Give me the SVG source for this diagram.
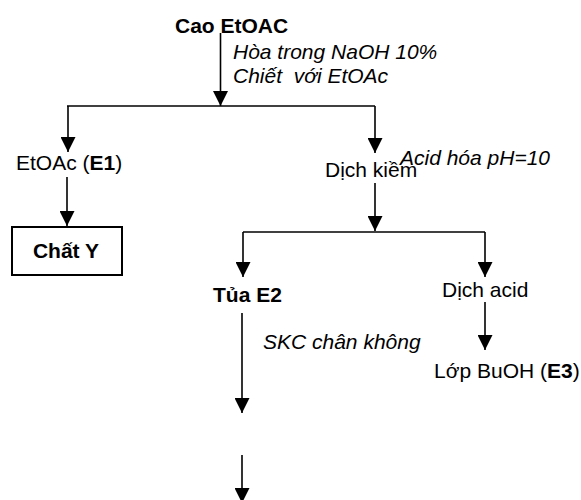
<svg xmlns="http://www.w3.org/2000/svg" width="581" height="500" viewBox="0 0 581 500">
<defs>
<marker id="ah" markerWidth="15" markerHeight="15" refX="15" refY="7.5" orient="auto" markerUnits="userSpaceOnUse">
<path d="M0,0 L15,7.5 L0,15 Z" fill="#000"/>
</marker>
<style>
.t{font-family:"Liberation Sans",Arial,sans-serif;font-size:21px;fill:#000}
.b{font-weight:bold}
.i{font-style:italic}
.ln{stroke:#000;stroke-width:1.6;fill:none}
.ar{stroke:#000;stroke-width:1.6;fill:none;marker-end:url(#ah)}
</style>
</defs>
<rect width="581" height="500" fill="#fff"/>
<g id="connectors">
<line class="ar" x1="220.5" y1="33" x2="220.5" y2="106"/>
<line class="ln" x1="67" y1="106" x2="375" y2="106"/>
<line class="ar" x1="68" y1="106" x2="68" y2="152"/>
<line class="ar" x1="375" y1="106" x2="375" y2="153"/>
<line class="ar" x1="67" y1="177" x2="67" y2="226"/>
<line class="ar" x1="375" y1="183" x2="375" y2="231"/>
<line class="ln" x1="243" y1="232" x2="485" y2="232"/>
<line class="ar" x1="243" y1="232" x2="243" y2="277"/>
<line class="ar" x1="485" y1="232" x2="485" y2="277"/>
<line class="ar" x1="485" y1="302" x2="485" y2="350"/>
<line class="ar" x1="242" y1="313" x2="242" y2="413"/>
<line class="ar" x1="242" y1="455" x2="242" y2="503"/>
</g>
<g id="cao"><text class="t b" x="175" y="33">Cao EtOAC</text></g>
<g id="step1"><text class="t i" x="233" y="59">Hòa trong NaOH 10%</text><text class="t i" x="233" y="83" xml:space="preserve" style="white-space:pre">Chiết  với EtOAc</text></g>
<g id="e1"><text class="t" x="16" y="170">EtOAc (<tspan class="b">E1</tspan>)</text></g>
<g id="chaty"><rect x="12" y="227" width="110" height="48" fill="#fff" stroke="#000" stroke-width="2"/><text class="t b" x="66" y="258" text-anchor="middle">Chất Y</text></g>
<g id="dichkiem"><text class="t" x="325" y="177">Dịch kiềm</text></g>
<g id="acid"><text class="t i" x="400" y="165">Acid hóa pH=10</text></g>
<g id="tua"><text class="t b" x="213" y="302">Tủa E2</text></g>
<g id="dichacid"><text class="t" x="442" y="297">Dịch acid</text></g>
<g id="skc"><text class="t i" x="263" y="349">SKC chân không</text></g>
<g id="buoh"><text class="t" x="434" y="378">Lớp BuOH (<tspan class="b">E3</tspan>)</text></g>
</svg>
